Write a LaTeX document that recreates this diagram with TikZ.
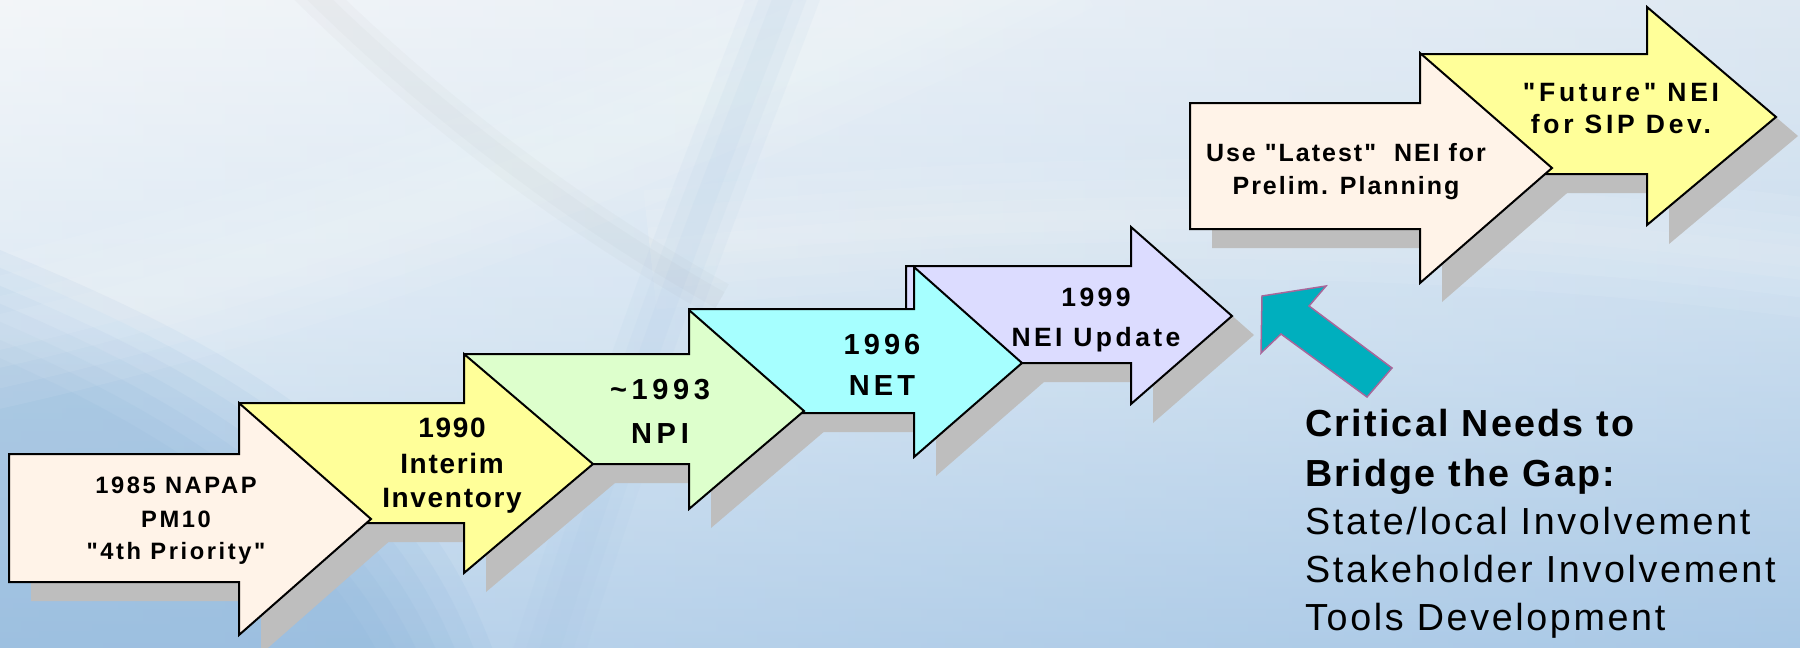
\documentclass[tikz,border=0pt]{standalone}
\usepackage{fontspec}
\setmainfont{Liberation Sans}
% a family without TeX ligature mapping, so that " stays a straight quote
\newfontfamily\plainsans{Liberation Sans}

% colours
\definecolor{bgtop}{RGB}{238,242,246}
\definecolor{bgmid}{RGB}{208,225,240}
\definecolor{bgbot}{RGB}{162,196,228}
\definecolor{bgdeep}{RGB}{128,174,216}
\definecolor{bgright}{RGB}{186,211,235}
\definecolor{shadowgray}{RGB}{190,190,190}
\definecolor{peach}{RGB}{255,243,232}
\definecolor{lemon}{RGB}{255,255,153}
\definecolor{mint}{RGB}{221,255,204}
\definecolor{aqua}{RGB}{166,255,255}
\definecolor{lilac}{RGB}{220,220,255}
\definecolor{pointerfill}{RGB}{0,175,190}
\definecolor{pointeredge}{RGB}{168,102,154}

% block arrow: style, left, body top, body bottom, neck x, head top, head bottom, tip x, tip y
\newcommand\blockarrow[9]{%
  \path[#1] (#2,#3) -- (#5,#3) -- (#5,#6) -- (#8,#9) -- (#5,#7) -- (#5,#4) -- (#2,#4) -- cycle;}

\tikzset{
  shadowed/.style={fill=shadowgray, shift={(22,19)}},
  stage/.style={fill=#1, draw=black, line width=2pt, line join=miter},
  lbl/.style 2 args={anchor=base, inner sep=0pt,
    font=\plainsans\fontsize{#1}{#1}\selectfont\bfseries\addfontfeature{LetterSpace=#2}},
  needs/.style={anchor=base west, inner sep=0pt,
    font=\plainsans\fontsize{37.7}{45}\selectfont\addfontfeature{LetterSpace=7}},
  needshead/.style={needs,
    font=\plainsans\fontsize{37.7}{45}\selectfont\bfseries\addfontfeature{LetterSpace=6}},
  sweep/.style={line cap=butt, draw opacity=#1},
}

\begin{document}
\begin{tikzpicture}[x=1pt, y=-1pt]
\useasboundingbox (0,0) rectangle (1800,648);
\clip (0,0) rectangle (1800,648);

% backdrop
\shade[top color=bgtop, bottom color=bgbot, middle color=bgmid] (0,0) rectangle (1800,648);
\shade[left color=white, right color=bgright, fill opacity=0.3] (0,0) rectangle (1800,648);

% deeper blue in the lower left, soft edged
\foreach \k in {0,...,6}
  \fill[bgdeep, fill opacity=0.09, shift={(-\k*14,\k*12)}]
    (0,250) .. controls (120,300) and (230,350) .. (330,430)
    .. controls (420,500) and (470,570) .. (510,700) -- (-200,700) -- cycle;

% light sweeps
\foreach \w in {150,110,70,35}
  \draw[white, sweep=0.07, line width=\w]
    (-60,345) .. controls (300,270) and (700,120) .. (1060,-60);
\foreach \w in {120,80,45,20}
  \draw[white, sweep=0.07, line width=\w]
    (650,250) .. controls (1100,200) and (1500,215) .. (1860,265);
% blue and grey crossing sweeps
\foreach \w in {70,45,20}
  \draw[bgbot, sweep=0.08, line width=\w]
    (790,-20) .. controls (730,140) and (660,300) .. (540,680);
\foreach \w in {36,18}
  \draw[gray, sweep=0.035, line width=\w]
    (300,-20) .. controls (420,100) and (560,210) .. (720,300);

% shadows
\blockarrow{shadowed}{9}{454}{582}{239}{403}{635}{371}{519}
\blockarrow{shadowed}{240}{403}{523}{464}{354}{573}{593}{464}
\blockarrow{shadowed}{465}{354}{464}{689}{310}{509}{804}{411}
\blockarrow{shadowed}{689}{309}{413}{914}{267}{457}{1022}{363}
\blockarrow{shadowed}{906}{266}{363}{1131}{227}{404}{1232}{316}
\blockarrow{shadowed}{1190}{103}{229}{1420}{53}{283}{1552}{168}
\blockarrow{shadowed}{1421}{54}{174}{1647}{7}{225}{1776}{117}

% stages, back to front
\blockarrow{stage=lemon}{1421}{54}{174}{1647}{7}{225}{1776}{117}
\blockarrow{stage=peach}{1190}{103}{229}{1420}{53}{283}{1552}{168}
\blockarrow{stage=lilac}{906}{266}{363}{1131}{227}{404}{1232}{316}
\blockarrow{stage=aqua}{689}{309}{413}{914}{267}{457}{1022}{363}
\blockarrow{stage=mint}{465}{354}{464}{689}{310}{509}{804}{411}
\blockarrow{stage=lemon}{240}{403}{523}{464}{354}{573}{593}{464}
\blockarrow{stage=peach}{9}{454}{582}{239}{403}{635}{371}{519}

% stage labels
\node[lbl={23.7}{11}] (s1a) at (176,493) {1985 NAPAP};
\node[lbl={23.7}{11}] (s1b) at (176,527) {PM10};
\node[lbl={23.7}{11}] (s1c) at (176,559) {"4th Priority"};

\node[lbl={28}{6}] (s2a) at (452,437) {1990};
\node[lbl={28}{6}] (s2b) at (452,473) {Interim};
\node[lbl={28}{6}] (s2c) at (452,507) {Inventory};

\node[lbl={29}{16}] (s3a) at (660,399) {\textasciitilde1993};
\node[lbl={29}{16}] (s3b) at (660,443) {NPI};

\node[lbl={29}{14}] (s4a) at (882,354) {1996};
\node[lbl={29}{14}] (s4b) at (882,395) {NET};

\node[lbl={26.5}{13}] (s5a) at (1096,306) {1999};
\node[lbl={26.5}{13}] (s5b) at (1096,346) {NEI Update};

\node[lbl={25}{8}] (s6a) at (1346,161) {Use "Latest"\ \ NEI for};
\node[lbl={25}{8}] (s6b) at (1346,194) {Prelim. Planning};

\node[lbl={26.5}{14}] (s7a) at (1621,101) {"Future" NEI};
\node[lbl={26.5}{14}] (s7b) at (1621,133) {for SIP Dev.};

% pointer toward the gap
\path[fill=pointerfill, draw=pointeredge, line width=1.5pt, line join=miter]
  (1262,296) -- (1326,286) -- (1309,306) -- (1392,368)
  -- (1367,397) -- (1281,334) -- (1261,353) -- cycle;

% needs list
\node[needshead] (n1) at (1305,436) {Critical Needs to};
\node[needshead] (n2) at (1305,486) {Bridge the Gap:};
\node[needs] (n3) at (1305,534) {State/local Involvement};
\node[needs] (n4) at (1305,582) {Stakeholder Involvement};
\node[needs] (n5) at (1305,630) {Tools Development};
\end{tikzpicture}
\end{document}
